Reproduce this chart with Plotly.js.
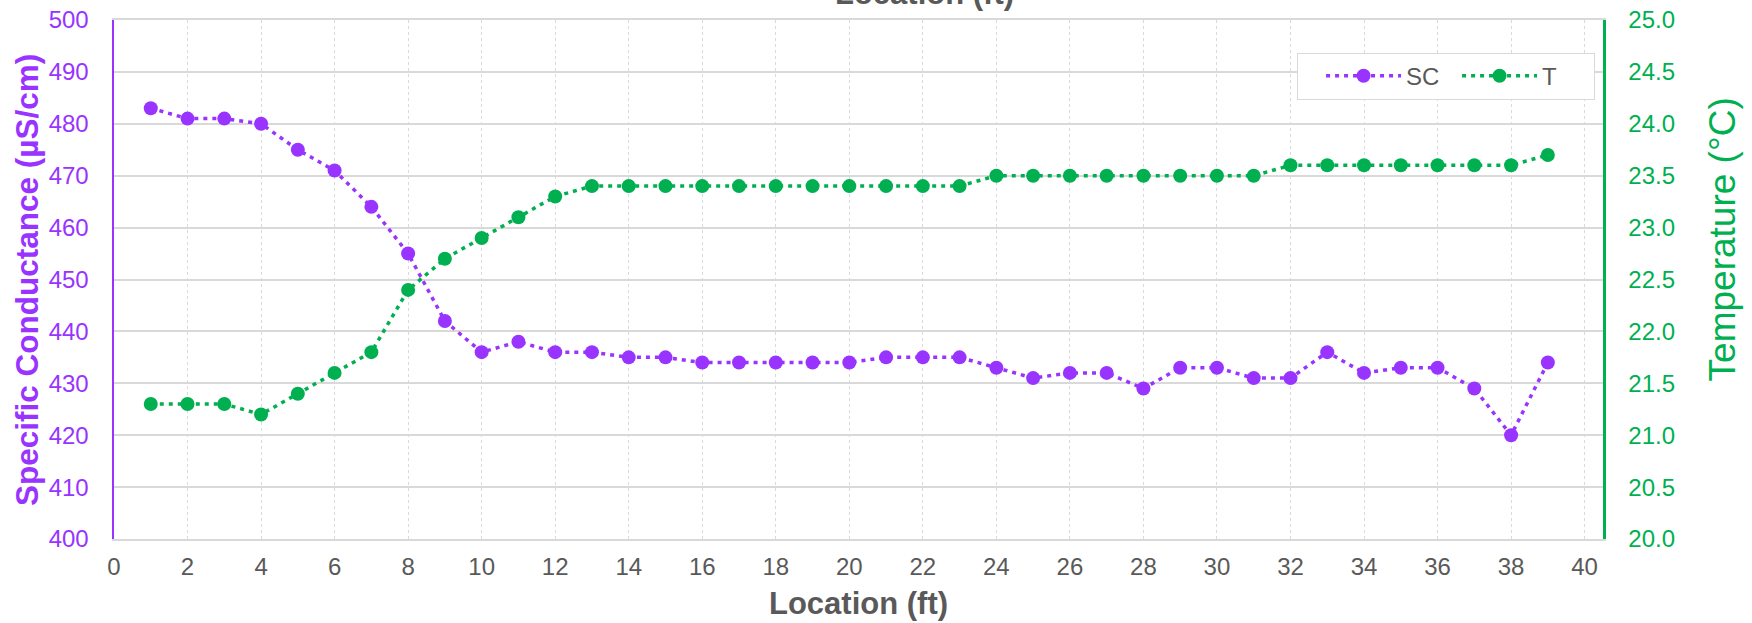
<!DOCTYPE html>
<html>
<head>
<meta charset="utf-8">
<script src="https://cdn.plot.ly/plotly-3.0.1.min.js"></script>
<style>html,body{margin:0;padding:0;background:#fff;}#chart{width:1752px;height:623px;}</style>
</head>
<body>
<div id="chart"></div>
<script>
const locations = [1,2,3,4,5,6,7,8,9,10,11,12,13,14,15,16,17,18,19,20,21,22,23,24,25,26,27,28,29,30,31,32,33,34,35,36,37,38,39];
const scValues = [483,481,481,480,475,471,464,455,442,436,438,436,436,435,435,434,434,434,434,434,435,435,435,433,431,432,432,429,433,433,431,431,436,432,433,433,429,420,434];
const tValues = [21.3,21.3,21.3,21.2,21.4,21.6,21.8,22.4,22.7,22.9,23.1,23.3,23.4,23.4,23.4,23.4,23.4,23.4,23.4,23.4,23.4,23.4,23.4,23.5,23.5,23.5,23.5,23.5,23.5,23.5,23.5,23.6,23.6,23.6,23.6,23.6,23.6,23.6,23.7];
const seriesNames = ['SC', 'T'];
const xTitle = 'Location (ft)';
const y1Title = 'Specific Conductance (µS/cm)';
const y2Title = 'Temperature (°C)';

const PURPLE = '#9933FF';
const GREEN = '#00B050';
const GRAY = '#595959';
const GRID = '#d9d9d9';
const FONT = 'Liberation Sans, Arial, sans-serif';

const traces = [
  {
    x: locations, y: scValues, name: seriesNames[0], type: 'scatter', mode: 'lines+markers',
    line: {color: PURPLE, width: 3.5, dash: '4px,5px'},
    marker: {color: PURPLE, size: 14},
    yaxis: 'y'
  },
  {
    x: locations, y: tValues, name: seriesNames[1], type: 'scatter', mode: 'lines+markers',
    line: {color: GREEN, width: 3.5, dash: '4px,5px'},
    marker: {color: GREEN, size: 14},
    yaxis: 'y2'
  }
];

const layout = {
  width: 1752, height: 623,
  margin: {l: 114, r: 149, t: 20, b: 83.7, pad: 0},
  paper_bgcolor: '#fff', plot_bgcolor: '#fff',
  font: {family: FONT, color: GRAY},
  showlegend: true,
  legend: {
    orientation: 'h', x: 0.7943, y: 0.937, xanchor: 'left', yanchor: 'top',
    bgcolor: '#fff', bordercolor: GRID, borderwidth: 1,
    font: {size: 24, color: GRAY, family: FONT}, itemwidth: 75,
    entrywidth: 46, entrywidthmode: 'pixels',
    title: {text: '\u00a0\u00a0', font: {size: 24, color: GRAY, family: FONT}}
  },
  xaxis: {
    range: [0, 40.5], dtick: 2, tick0: 0,
    showgrid: true, gridcolor: GRID, gridwidth: 1, griddash: 'dot',
    showline: true, linecolor: GRID, linewidth: 2, mirror: true,
    zeroline: false, ticks: '', ticklabelstandoff: 5,
    tickfont: {size: 24, color: GRAY, family: FONT}
  },
  yaxis: {
    range: [400, 500], dtick: 10, tick0: 400,
    showgrid: true, gridcolor: GRID, gridwidth: 2,
    showline: true, linecolor: PURPLE, linewidth: 2.5,
    zeroline: false, ticks: '', ticklabelstandoff: 18,
    tickfont: {size: 24, color: PURPLE, family: FONT}
  },
  yaxis2: {
    range: [20, 25], dtick: 0.5, tick0: 20, tickformat: '.1f',
    overlaying: 'y', side: 'right',
    showgrid: false, showline: true, linecolor: GREEN, linewidth: 2.5,
    zeroline: false, ticks: '', ticklabelstandoff: 18,
    tickfont: {size: 24, color: GREEN, family: FONT}
  },
  annotations: [
    {text: '<b>' + xTitle + '</b>', xref: 'paper', yref: 'paper', x: 0.5003, y: -0.1246,
     xanchor: 'center', yanchor: 'middle', showarrow: false, font: {size: 31, color: GRAY, family: FONT}},
    {text: '<b>' + xTitle + '</b>', xref: 'paper', yref: 'paper', x: 0.544, y: 1.0518,
     xanchor: 'center', yanchor: 'middle', showarrow: false, font: {size: 31, color: GRAY, family: FONT}},
    {text: '<b>' + y1Title + '</b>', xref: 'paper', yref: 'paper', x: -0.05877, y: 0.5, textangle: -90,
     xanchor: 'center', yanchor: 'middle', showarrow: false, font: {size: 31.5, color: PURPLE, family: FONT}},
    {text: y2Title, xref: 'paper', yref: 'paper', x: 1.0803, y: 0.5764, textangle: -90,
     xanchor: 'center', yanchor: 'middle', showarrow: false, font: {size: 37, color: GREEN, family: FONT}}
  ]
};

Plotly.newPlot('chart', traces, layout, {displayModeBar: false, staticPlot: true});
</script>
</body>
</html>
